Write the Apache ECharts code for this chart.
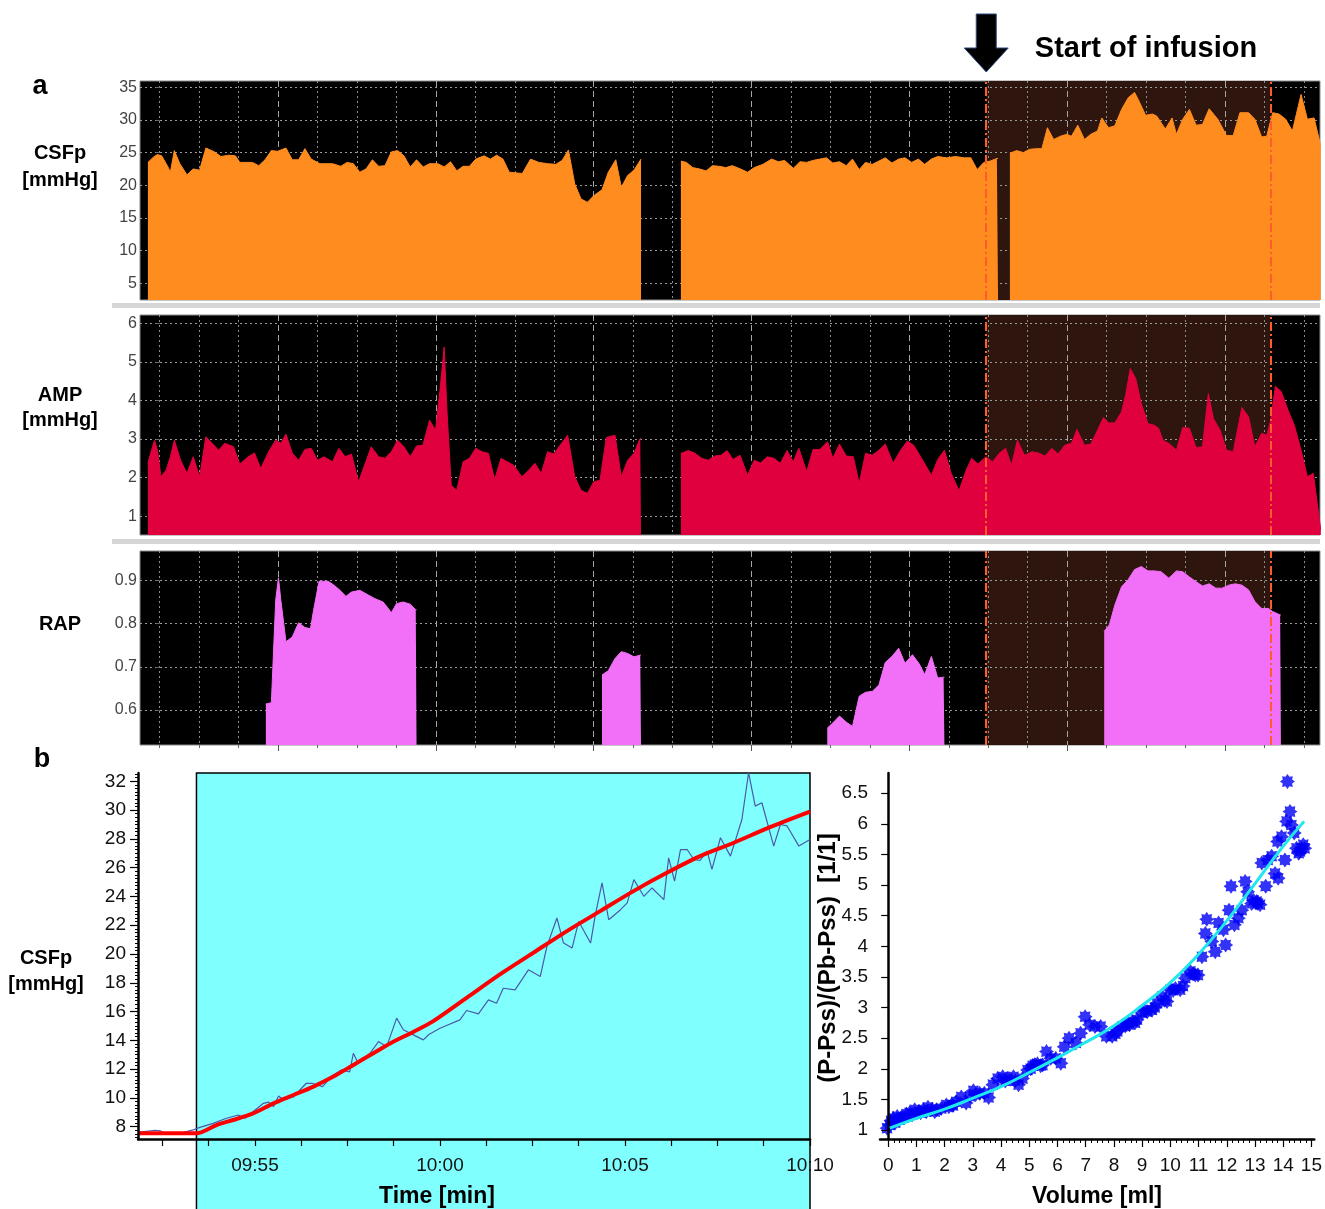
<!DOCTYPE html>
<html>
<head>
<meta charset="UTF-8">
<title>CSF infusion test</title>
<script src="https://cdn.jsdelivr.net/npm/echarts@6/dist/echarts.min.js"></script>
<style>
  html, body { margin: 0; padding: 0; background: #fff; }
  #main { width: 1325px; height: 1209px; }
</style>
</head>
<body>
<div id="main"></div>
<script>
// ---------- data (panel a: x = time in grid divisions) ----------
var csfSeg1 = [[-0.30,23.5],[-0.16,24.3],[-0.06,24.7],[0.05,24.5],[0.21,22.8],[0.27,22.0],[0.37,25.3],[0.51,23.3],[0.69,21.6],[0.85,22.5],[1.01,22.3],[1.17,25.7],[1.39,25.1],[1.55,24.4],[1.76,24.6],[1.92,24.5],[2.03,23.5],[2.35,23.5],[2.51,23.0],[2.67,23.9],[2.83,25.3],[2.99,25.2],[3.20,25.7],[3.36,23.9],[3.52,23.9],[3.68,25.6],[3.84,24.0],[4.06,23.3],[4.38,23.3],[4.59,22.9],[4.75,23.5],[4.91,23.3],[5.07,22.0],[5.23,22.5],[5.39,23.9],[5.55,22.9],[5.71,23.0],[5.87,25.1],[6.03,25.3],[6.19,24.5],[6.35,22.8],[6.51,23.9],[6.68,22.8],[6.84,23.3],[7.05,23.3],[7.21,22.8],[7.37,23.6],[7.53,22.2],[7.69,22.9],[7.85,22.9],[8.01,24.0],[8.22,24.5],[8.38,24.0],[8.54,24.6],[8.70,24.0],[8.86,22.0],[9.19,21.8],[9.40,24.0],[9.61,23.5],[9.83,23.3],[10.04,23.2],[10.20,23.8],[10.36,25.4],[10.52,20.2],[10.68,17.9],[10.84,17.4],[11.00,18.4],[11.21,19.3],[11.37,22.0],[11.56,23.9],[11.70,19.7],[11.86,21.5],[12.02,22.3],[12.20,24.0]];
var csfSeg2 = [[13.21,23.7],[13.35,23.5],[13.51,22.7],[13.68,22.5],[13.85,22.2],[14.01,23.0],[14.18,22.9],[14.35,22.7],[14.51,23.0],[14.68,22.6],[14.90,22.0],[15.07,22.7],[15.29,23.2],[15.51,24.0],[15.68,23.6],[15.84,23.8],[16.06,22.6],[16.23,23.6],[16.40,23.5],[16.56,23.8],[16.73,24.0],[16.90,24.2],[17.06,23.4],[17.23,23.6],[17.40,23.0],[17.56,24.0],[17.73,22.4],[17.89,23.5],[18.06,23.2],[18.23,23.7],[18.39,24.2],[18.56,23.4],[18.73,24.0],[18.89,24.2],[19.06,23.5],[19.23,24.0],[19.39,23.2],[19.56,24.0],[19.72,24.4],[19.95,24.2],[20.17,24.4],[20.39,24.2],[20.56,24.2],[20.72,22.4],[20.89,23.5],[21.05,23.7],[21.22,24.1],[21.25,24.1]];
var csfSeg3 = [[21.55,24.9],[21.72,25.3],[21.89,25.0],[22.05,25.5],[22.22,25.6],[22.36,25.6],[22.50,28.8],[22.66,27.0],[22.83,27.5],[22.99,27.8],[23.11,27.5],[23.27,29.2],[23.44,27.0],[23.60,27.8],[23.77,28.3],[23.88,30.3],[24.05,28.8],[24.21,29.1],[24.38,31.6],[24.55,33.4],[24.71,34.2],[24.82,32.9],[24.99,30.7],[25.16,30.9],[25.27,30.6],[25.49,28.6],[25.66,30.3],[25.77,27.8],[25.93,30.1],[26.10,31.6],[26.27,29.2],[26.43,29.3],[26.60,31.7],[26.82,30.1],[27.04,27.6],[27.21,27.6],[27.38,31.1],[27.60,31.1],[27.76,30.1],[27.93,27.4],[28.06,27.5],[28.21,31.1],[28.37,30.9],[28.54,30.1],[28.71,28.3],[28.93,33.9],[29.09,30.1],[29.26,30.3],[29.43,26.0]];

var ampSeg1 = [[-0.30,2.37],[-0.22,2.67],[-0.13,2.97],[-0.05,2.67],[0.03,2.02],[0.16,2.19],[0.27,2.54],[0.37,2.97],[0.53,2.45],[0.69,2.11],[0.85,2.54],[1.01,2.02],[1.17,3.06],[1.33,2.89],[1.49,2.71],[1.65,2.89],[1.87,2.80],[2.03,2.35],[2.24,2.54],[2.40,2.64],[2.56,2.24],[2.78,2.71],[2.94,2.97],[3.07,2.89],[3.20,3.13],[3.36,2.63],[3.52,2.45],[3.68,2.73],[3.84,2.76],[4.00,2.45],[4.16,2.54],[4.38,2.41],[4.54,2.76],[4.70,2.54],[4.86,2.61],[5.04,1.89],[5.21,2.37],[5.36,2.80],[5.55,2.54],[5.71,2.50],[5.87,2.67],[6.03,2.97],[6.19,2.80],[6.35,2.54],[6.51,2.82],[6.67,2.84],[6.84,3.49],[6.99,3.23],[7.10,4.23],[7.21,5.39],[7.28,3.75],[7.39,1.80],[7.53,1.67],[7.69,2.41],[7.85,2.50],[8.01,2.76],[8.17,2.67],[8.33,2.63],[8.49,1.95],[8.65,2.50],[8.81,2.41],[8.97,2.32],[9.18,2.02],[9.35,2.19],[9.51,2.37],[9.67,2.11],[9.83,2.67],[9.99,2.61],[10.15,2.84],[10.34,3.10],[10.52,2.02],[10.68,1.67],[10.84,1.59],[11.00,1.89],[11.16,1.93],[11.32,3.04],[11.54,3.10],[11.70,2.02],[11.86,2.45],[12.02,2.63],[12.18,3.02],[12.20,3.02]];
var ampSeg2 = [[13.21,2.63],[13.40,2.70],[13.57,2.63],[13.74,2.50],[13.90,2.45],[14.07,2.56],[14.23,2.58],[14.38,2.70],[14.53,2.47],[14.71,2.58],[14.90,2.06],[15.07,2.45],[15.23,2.38],[15.40,2.54],[15.57,2.50],[15.73,2.37],[15.90,2.70],[16.06,2.41],[16.20,2.76],[16.40,2.15],[16.56,2.73],[16.73,2.73],[16.93,2.93],[17.06,2.50],[17.23,2.87],[17.40,2.56],[17.58,2.54],[17.73,1.85],[17.89,2.63],[18.06,2.58],[18.23,2.71],[18.39,2.87],[18.59,2.38],[18.78,2.71],[18.95,2.95],[19.11,2.84],[19.34,2.45],[19.56,2.06],[19.72,2.47],[19.89,2.71],[20.06,2.11],[20.26,1.66],[20.44,2.19],[20.58,2.50],[20.74,2.35],[20.94,2.54],[21.11,2.41],[21.28,2.63],[21.44,2.76],[21.59,2.32],[21.74,2.97],[21.92,2.58],[22.11,2.67],[22.27,2.64],[22.44,2.56],[22.61,2.76],[22.77,2.61],[22.94,2.84],[23.11,2.89],[23.25,3.25],[23.44,2.84],[23.60,2.87],[23.77,3.23],[23.92,3.56],[24.05,3.42],[24.21,3.42],[24.38,3.71],[24.49,4.18],[24.60,4.83],[24.74,4.57],[24.88,3.92],[25.05,3.40],[25.21,3.36],[25.32,3.28],[25.43,2.97],[25.60,2.87],[25.77,2.71],[25.93,3.30],[26.10,3.28],[26.27,2.78],[26.43,2.80],[26.58,4.18],[26.71,3.53],[26.88,3.23],[27.04,2.71],[27.21,2.67],[27.43,3.82],[27.60,3.58],[27.76,2.80],[27.93,3.15],[28.06,3.10],[28.15,3.45],[28.28,4.37],[28.43,4.23],[28.60,3.75],[28.76,3.36],[28.93,2.71],[29.09,2.02],[29.24,2.11],[29.43,0.64]];

var rapSeg1 = [[2.69,0.614],[2.83,0.617],[2.94,0.854],[3.01,0.906],[3.07,0.854],[3.20,0.758],[3.36,0.769],[3.52,0.802],[3.68,0.791],[3.82,0.788],[3.90,0.831],[4.04,0.898],[4.27,0.898],[4.43,0.888],[4.57,0.877],[4.72,0.863],[4.86,0.873],[5.07,0.877],[5.23,0.869],[5.45,0.858],[5.66,0.850],[5.77,0.838],[5.87,0.825],[6.00,0.846],[6.17,0.850],[6.35,0.845],[6.49,0.832],[6.51,0.832]];
var rapSeg2 = [[11.21,0.681],[11.37,0.691],[11.54,0.719],[11.70,0.735],[11.86,0.731],[12.02,0.723],[12.07,0.719],[12.18,0.727],[12.20,0.727]];
var rapSeg3 = [[16.92,0.558],[17.06,0.570],[17.23,0.586],[17.40,0.572],[17.56,0.562],[17.73,0.632],[17.89,0.641],[18.06,0.643],[18.23,0.658],[18.39,0.710],[18.56,0.724],[18.73,0.743],[18.89,0.708],[19.08,0.728],[19.25,0.707],[19.39,0.682],[19.56,0.724],[19.72,0.674],[19.87,0.676],[19.89,0.676]];
var rapSeg4 = [[23.94,0.782],[24.07,0.797],[24.21,0.843],[24.38,0.885],[24.55,0.902],[24.71,0.925],[24.88,0.932],[25.05,0.922],[25.21,0.922],[25.38,0.920],[25.58,0.905],[25.77,0.922],[25.93,0.920],[26.10,0.908],[26.27,0.897],[26.43,0.887],[26.60,0.892],[26.77,0.882],[26.93,0.882],[27.10,0.889],[27.26,0.892],[27.43,0.889],[27.60,0.878],[27.76,0.851],[27.93,0.835],[28.10,0.835],[28.21,0.828],[28.40,0.820],[28.42,0.820]];

var infusionStart = 20.95;
var infusionEnd = 28.15;

// ---------- data (panel b left: x = minutes after 09:50) ----------
var csfRaw = [[1.84,7.6],[2.3,7.75],[2.45,7.7],[2.6,7.5],[3.0,7.55],[3.33,7.77],[3.51,7.95],[3.87,8.23],[4.23,8.58],[4.55,8.81],[4.73,8.58],[5.23,9.62],[5.37,9.7],[5.50,9.39],[5.64,10.13],[5.77,9.85],[6.04,10.06],[6.38,11.0],[6.56,11.0],[6.83,10.78],[7.06,11.48],[7.33,11.94],[7.56,11.8],[7.66,13.1],[7.79,12.4],[8.11,13.1],[8.34,13.91],[8.56,13.56],[8.83,15.54],[9.01,14.73],[9.19,14.5],[9.55,14.03],[9.7,14.4],[10.0,14.84],[10.54,15.42],[10.72,16.07],[11.04,15.84],[11.31,16.81],[11.53,16.58],[11.71,17.62],[12.03,17.5],[12.39,18.9],[12.71,18.43],[12.89,20.52],[13.16,22.5],[13.34,20.76],[13.57,20.41],[13.75,22.26],[14.07,20.76],[14.2,22.73],[14.38,24.94],[14.56,22.38],[14.88,23.08],[15.06,23.55],[15.24,25.17],[15.51,24.01],[15.73,24.59],[16.05,23.78],[16.18,26.68],[16.34,25.06],[16.5,27.26],[16.68,27.26],[16.86,26.57],[17.03,26.5],[17.22,27.15],[17.35,25.88],[17.58,28.08],[17.85,26.8],[18.16,29.35],[18.34,32.6],[18.52,30.28],[18.7,30.51],[19.02,27.5],[19.2,29.0],[19.38,28.9],[19.7,27.5],[20.0,27.96]];
var csfModel = [[1.84,7.54],[3.42,7.54],[3.96,8.11],[4.41,8.46],[4.95,8.92],[5.50,9.62],[6.04,10.2],[6.58,10.78],[7.12,11.48],[7.66,12.29],[8.20,13.1],[8.75,13.91],[9.29,14.6],[9.82,15.33],[10.72,16.95],[11.62,18.58],[12.52,20.08],[13.43,21.59],[14.33,22.98],[15.23,24.37],[16.13,25.64],[17.03,26.8],[17.94,27.73],[18.84,28.73],[20.0,29.89]];
var fitWindow = [3.42, 20];

// ---------- data (panel b right) ----------
var ratioPoints = [[-0.04,1.03],[0.06,1.08],[0.1,1.15],[0.18,1.19],[0.25,1.12],[0.32,1.22],[0.4,1.17],[0.47,1.21],[0.55,1.2],[0.65,1.26],[0.76,1.28],[0.85,1.25],[0.94,1.33],[1.09,1.30],[1.15,1.28],[1.24,1.33],[1.35,1.3],[1.41,1.37],[1.56,1.34],[1.65,1.3],[1.71,1.33],[1.88,1.35],[2.06,1.41],[2.15,1.38],[2.24,1.41],[2.3,1.4],[2.41,1.46],[2.59,1.54],[2.76,1.44],[2.9,1.55],[3.02,1.64],[3.1,1.58],[3.24,1.60],[3.41,1.60],[3.56,1.53],[3.71,1.74],[3.88,1.84],[4.06,1.87],[4.15,1.8],[4.24,1.84],[4.44,1.87],[4.5,1.8],[4.62,1.74],[4.76,1.84],[4.94,1.98],[5.05,2.0],[5.12,2.05],[5.2,2.07],[5.29,2.08],[5.4,2.05],[5.47,2.06],[5.61,2.28],[5.76,2.17],[5.94,2.17],[6.12,2.09],[6.24,2.36],[6.41,2.50],[6.65,2.42],[6.82,2.58],[6.98,2.85],[7.14,2.72],[7.33,2.69],[7.53,2.69],[7.73,2.53],[7.94,2.53],[8.05,2.57],[8.12,2.61],[8.29,2.69],[8.4,2.7],[8.47,2.74],[8.55,2.72],[8.65,2.77],[8.75,2.75],[8.82,2.80],[9.0,2.91],[9.1,2.95],[9.18,2.93],[9.35,2.96],[9.45,3.0],[9.53,3.07],[9.71,3.18],[9.8,3.12],[9.88,3.10],[10.0,3.29],[10.1,3.28],[10.18,3.31],[10.35,3.29],[10.45,3.35],[10.53,3.48],[10.71,3.59],[10.8,3.55],[10.88,3.53],[10.98,3.53],[11.12,3.83],[11.24,4.21],[11.29,4.44],[11.47,4.08],[11.59,3.91],[11.71,4.38],[11.88,4.27],[11.96,4.02],[12.08,4.59],[12.15,4.98],[12.27,4.35],[12.41,4.46],[12.53,4.59],[12.65,5.06],[12.74,4.89],[12.88,4.70],[12.95,4.75],[13.06,4.73],[13.1,4.7],[13.18,4.68],[13.24,5.36],[13.38,4.98],[13.45,5.41],[13.59,5.47],[13.71,5.19],[13.82,5.11],[13.80,5.71],[13.94,5.79],[14.06,5.41],[14.12,6.04],[14.15,6.69],[14.24,6.20],[14.29,5.98],[14.39,5.85],[14.47,5.60],[14.55,5.52],[14.59,5.55],[14.65,5.6],[14.71,5.66],[14.76,5.60]];
var ratioFit = [[0.06,1.03],[1,1.19],[2,1.34],[3,1.52],[4,1.71],[4.96,1.93],[5.96,2.17],[6.95,2.42],[7.96,2.69],[8.96,3.02],[9.98,3.40],[10.92,3.83],[11.94,4.38],[12.88,4.95],[13.94,5.60],[14.74,6.04]];

// ---------- tick labels ----------
var csfTicks = [5, 10, 15, 20, 25, 30, 35];
var ampTicks = [1, 2, 3, 4, 5, 6];
var rapTicks = [0.6, 0.7, 0.8, 0.9];
var pressTicks = [8, 10, 12, 14, 16, 18, 20, 22, 24, 26, 28, 30, 32];
var timeLabels = [5, 10, 15, 20];
var ratioTicks = [1, 1.5, 2, 2.5, 3, 3.5, 4, 4.5, 5, 5.5, 6, 6.5];
var volTicks = [0, 1, 2, 3, 4, 5, 6, 7, 8, 9, 10, 11, 12, 13, 14, 15];

// grid divisions in panel a; every 4th one is drawn dashed
var majorX = [], minorX = [];
for (var k = 0; k <= 29; k++) { if (k % 4 === 3) majorX.push(k); else minorX.push(k); }
var timeTicks = [];
for (var t = 2.5; t <= 20.001; t += 1.25) timeTicks.push(+t.toFixed(2));
var pressMinor = [];
for (var p = 7.25; p <= 32.5; p += 0.25) pressMinor.push(+p.toFixed(2));
var volMinor = [];
for (var m = 0; m <= 15.001; m += 0.2) volMinor.push(+m.toFixed(1));

var FONT = "'Liberation Sans', Arial, sans-serif";
var ORANGE = '#ff8c1f', CRIMSON = '#e0003e', PINK = '#f270f7';

var chart = echarts.init(document.getElementById('main'));

var topBoxes = [
  { left: 140, top: 81, width: 1180, height: 219 },
  { left: 140, top: 315, width: 1180, height: 220 },
  { left: 140, top: 551, width: 1180, height: 194 }
];
var grids = topBoxes.map(function (b) {
  return { left: b.left, top: b.top, width: b.width, height: b.height, show: true,
    backgroundColor: '#000', borderColor: '#8a8a8a', borderWidth: 1 };
});
grids.push({ left: 138, top: 773, width: 672, height: 366 });
grids.push({ left: 880, top: 773, width: 436, height: 366 });

var xAxes = [];
for (var i = 0; i < 3; i++) {
  xAxes.push({ type: 'value', gridIndex: i, min: -0.5, max: 29.41, z: 1.5, position: 'bottom',
    axisLine: { show: false }, axisLabel: { show: false },
    axisTick: { show: i === 2, customValues: minorX, length: 3, lineStyle: { color: '#666' } },
    splitLine: { show: true, lineStyle: { color: '#8c8c8c', type: [2, 3], width: 1 } } });
}
for (i = 0; i < 3; i++) {
  xAxes.push({ type: 'value', gridIndex: i, min: -0.5, max: 29.41, z: 1.5, position: 'bottom',
    axisLine: { show: false }, axisLabel: { show: false },
    axisTick: { show: i === 2, customValues: majorX, length: 6, lineStyle: { color: '#555' } },
    splitLine: { show: true, lineStyle: { color: '#a5a5a5', type: [6, 4], width: 1 } } });
}
function hhmm(v) {
  var mm = 50 + Math.round(v), hh = 9 + Math.floor(mm / 60);
  mm = mm % 60;
  return (hh < 10 ? '0' : '') + hh + ':' + (mm < 10 ? '0' : '') + mm;
}
xAxes.push({ type: 'value', gridIndex: 3, min: 1.84, max: 20, z: 3, position: 'bottom',
  axisLine: { lineStyle: { color: '#000', width: 2.5 } },
  axisTick: { customValues: timeTicks, length: 7, lineStyle: { color: '#000', width: 1.2 } },
  axisLabel: { customValues: timeLabels, formatter: hhmm, color: '#111', fontSize: 19, fontFamily: FONT, margin: 17 },
  splitLine: { show: false } });
xAxes.push({ type: 'value', gridIndex: 4, min: -0.29, max: 15.1, z: 3, position: 'bottom',
  axisLine: { lineStyle: { color: '#000', width: 2.5 } },
  axisTick: { customValues: volTicks, length: 8, lineStyle: { color: '#000', width: 1.2 } },
  axisLabel: { customValues: volTicks, color: '#111', fontSize: 19, fontFamily: FONT, margin: 17 },
  splitLine: { show: false } });
xAxes.push({ type: 'value', gridIndex: 4, min: -0.29, max: 15.1, z: 3, position: 'bottom',
  axisLine: { show: false }, axisLabel: { show: false },
  axisTick: { customValues: volMinor, length: 4, lineStyle: { color: '#000', width: 1 } },
  splitLine: { show: false } });

function topY(idx, min, max, ticks, digits) {
  return { type: 'value', gridIndex: idx, min: min, max: max, z: 1.5, position: 'left',
    axisLine: { show: false },
    axisTick: { show: true, customValues: ticks, length: 4, lineStyle: { color: '#666' } },
    axisLabel: { customValues: ticks, color: '#444', fontSize: 16, fontFamily: FONT, margin: 3,
      formatter: function (v) { return v.toFixed(digits); } },
    splitLine: { show: true, lineStyle: { color: '#9a9a9a', type: [2, 3], width: 1 } } };
}
var yAxes = [
  topY(0, 2.45, 35.95, csfTicks, 0),
  topY(1, 0.51, 6.22, ampTicks, 0),
  topY(2, 0.519, 0.968, rapTicks, 1),
  { type: 'value', gridIndex: 3, min: 7.14, max: 32.58, z: 3, position: 'left',
    axisLine: { show: true, lineStyle: { color: '#000', width: 2.5 } },
    axisTick: { customValues: pressTicks, length: 8, lineStyle: { color: '#000', width: 1.2 } },
    axisLabel: { customValues: pressTicks, color: '#111', fontSize: 19, fontFamily: FONT, margin: 12 },
    splitLine: { show: false } },
  { type: 'value', gridIndex: 4, min: 0.853, max: 6.83, z: 3, position: 'left',
    axisLine: { show: true, lineStyle: { color: '#000', width: 2.5 } },
    axisTick: { customValues: ratioTicks, length: 7, lineStyle: { color: '#000', width: 1.2 } },
    axisLabel: { customValues: ratioTicks, color: '#111', fontSize: 19, fontFamily: FONT, margin: 12 },
    splitLine: { show: false } },
  { type: 'value', gridIndex: 3, min: 7.14, max: 32.58, z: 3, position: 'left',
    axisLine: { show: false }, axisLabel: { show: false },
    axisTick: { customValues: pressMinor, length: 3, lineStyle: { color: '#000', width: 1 } },
    splitLine: { show: false } }
];

var series = [];
// infusion shading + dash-dot markers, under the traces
for (i = 0; i < 3; i++) {
  series.push({ type: 'line', xAxisIndex: i, yAxisIndex: i, data: [], z: 1, silent: true,
    markArea: { silent: true, itemStyle: { color: '#2e150d' },
      data: [[{ xAxis: infusionStart }, { xAxis: infusionEnd }]] },
    markLine: { silent: true, symbol: ['none', 'none'], label: { show: false },
      lineStyle: { color: '#ff5c2b', type: [9, 3, 2, 3], width: 2 },
      data: [{ xAxis: infusionStart }, { xAxis: infusionEnd }] } });
}
function area(data, idx, color) {
  return { type: 'line', xAxisIndex: idx, yAxisIndex: idx, data: data, z: 2,
    showSymbol: false, symbol: 'none', silent: true,
    lineStyle: { color: color, width: 1 },
    areaStyle: { color: color, opacity: 1, origin: 'start' } };
}
[csfSeg1, csfSeg2, csfSeg3].forEach(function (d) { series.push(area(d, 0, ORANGE)); });
[ampSeg1, ampSeg2].forEach(function (d) { series.push(area(d, 1, CRIMSON)); });
[rapSeg1, rapSeg2, rapSeg3, rapSeg4].forEach(function (d) { series.push(area(d, 2, PINK)); });

series.push({ type: 'line', xAxisIndex: 6, yAxisIndex: 3, data: csfRaw, z: 2, silent: true,
  showSymbol: false, symbol: 'none', lineStyle: { color: '#4a5aa8', width: 1.2 } });
series.push({ type: 'line', xAxisIndex: 6, yAxisIndex: 3, data: csfModel, z: 2.5, silent: true,
  showSymbol: false, symbol: 'none', smooth: 0.3, lineStyle: { color: '#ff0000', width: 4 } });

var STAR = 'path://M0,-10 L2.6,-6.3 L7.1,-7.1 L6.3,-2.6 L10,0 L6.3,2.6 L7.1,7.1 L2.6,6.3 L0,10 L-2.6,6.3 L-7.1,7.1 L-6.3,2.6 L-10,0 L-6.3,-2.6 L-7.1,-7.1 L-2.6,-6.3 Z';
series.push({ type: 'scatter', xAxisIndex: 7, yAxisIndex: 4, data: ratioPoints, z: 2, silent: true,
  symbol: STAR, symbolSize: 15, itemStyle: { color: '#0000f5' } });
series.push({ type: 'line', xAxisIndex: 7, yAxisIndex: 4, data: ratioFit, z: 3, silent: true,
  showSymbol: false, symbol: 'none', smooth: true, lineStyle: { color: '#1ee8ee', width: 3 } });

chart.setOption({
  animation: false,
  backgroundColor: '#fff',
  grid: grids,
  xAxis: xAxes,
  yAxis: yAxes,
  series: series
});

// annotations placed from the axes' own scales
var arrowX = chart.convertToPixel({ xAxisIndex: 0 }, infusionStart);
var fitX0 = chart.convertToPixel({ xAxisIndex: 6 }, fitWindow[0]);
var fitX1 = chart.convertToPixel({ xAxisIndex: 6 }, fitWindow[1]);
var plotTop = chart.convertToPixel({ yAxisIndex: 3 }, 32.58);

function label(txt, x, y, size, extra) {
  var el = { type: 'text', x: x, y: y, z: 10, silent: true,
    style: { text: txt, font: 'bold ' + size + 'px ' + FONT, fill: '#000',
      align: 'center', verticalAlign: 'middle', textAlign: 'center', textVerticalAlign: 'middle' } };
  if (extra) for (var key in extra) el[key] = extra[key];
  return el;
}

chart.setOption({
  graphic: { elements: [
    { type: 'rect', z: 1, silent: true, shape: { x: fitX0, y: plotTop, width: fitX1 - fitX0, height: 460 },
      style: { fill: '#80ffff', stroke: '#000', lineWidth: 1.5 } },
    { type: 'rect', z: 1, silent: true, shape: { x: 112, y: 303, width: 1208, height: 5 },
      style: { fill: '#d6d6d6' } },
    { type: 'rect', z: 1, silent: true, shape: { x: 112, y: 539, width: 1208, height: 5 },
      style: { fill: '#d6d6d6' } },
    { type: 'polygon', z: 10, silent: true,
      shape: { points: [[arrowX - 10, 14], [arrowX + 10, 14], [arrowX + 10, 48], [arrowX + 22, 48],
        [arrowX, 72], [arrowX - 22, 48], [arrowX - 10, 48]] },
      style: { fill: '#000', stroke: '#2c4a7c', lineWidth: 1 } },
    label('Start of infusion', 1146, 49, 29),
    label('a', 40, 87, 27),
    label('CSFp', 60, 153, 20),
    label('[mmHg]', 60, 180, 20),
    label('AMP', 60, 395, 20),
    label('[mmHg]', 60, 420, 20),
    label('RAP', 60, 624, 20),
    label('b', 42, 760, 27),
    label('CSFp', 46, 958, 20),
    label('[mmHg]', 46, 984, 20),
    label('Time [min]', 437, 1197, 23),
    label('Volume [ml]', 1097, 1197, 23),
    label('(P-Pss)/(Pb-Pss)  [1/1]', 828, 958, 24, { rotation: Math.PI / 2 })
  ] }
});
</script>
</body>
</html>
